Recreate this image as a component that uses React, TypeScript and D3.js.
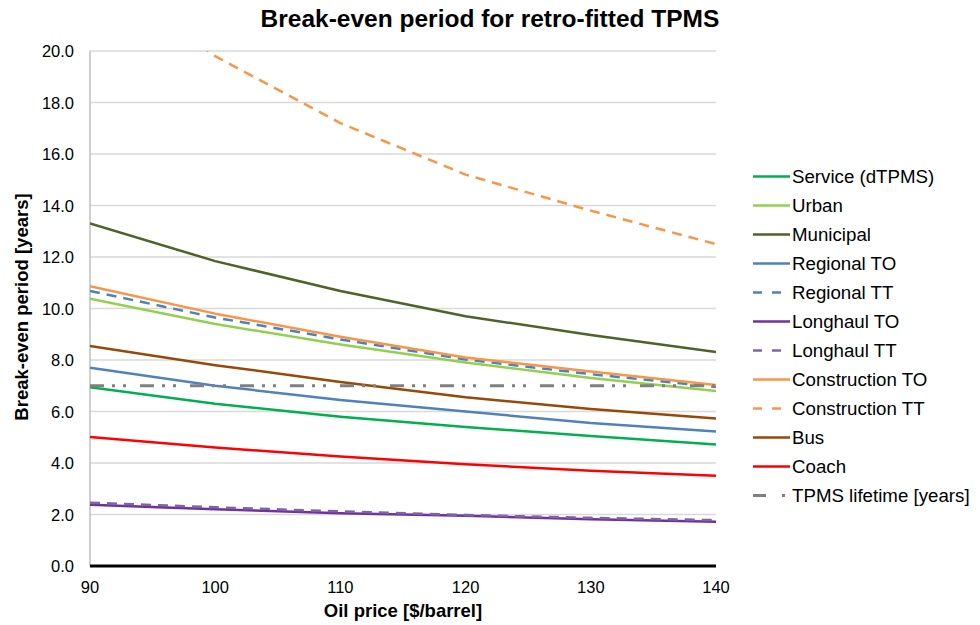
import React from "react";
import * as d3 from "d3";

// Oil price points (x axis)
const oilPrices = [90, 100, 110, 120, 130, 140];

// Break-even period in years for each vehicle segment
const service = [6.94, 6.3, 5.8, 5.4, 5.05, 4.72];
const urban = [10.38, 9.4, 8.6, 7.9, 7.3, 6.8];
const municipal = [13.3, 11.84, 10.68, 9.7, 8.97, 8.31];
const regionalTO = [7.7, 7.0, 6.45, 6.0, 5.55, 5.22];
const regionalTT = [10.68, 9.65, 8.8, 8.02, 7.45, 6.95];
const longhaulTO = [2.38, 2.2, 2.05, 1.95, 1.82, 1.72];
const longhaulTT = [2.46, 2.28, 2.12, 1.98, 1.87, 1.78];
const constructionTO = [10.87, 9.8, 8.9, 8.1, 7.55, 7.03];
const constructionTT = [23.3, 19.8, 17.2, 15.2, 13.8, 12.5];
const bus = [8.54, 7.8, 7.15, 6.55, 6.1, 5.73];
const coach = [5.01, 4.6, 4.25, 3.95, 3.7, 3.5];
const tpmsLifetime = [7, 7, 7, 7, 7, 7];

const yTicks = [0, 2, 4, 6, 8, 10, 12, 14, 16, 18, 20];
const xTicks = [90, 100, 110, 120, 130, 140];

type Series = {
  name: string;
  values: number[];
  color: string;
  dash?: string;
  legendDash?: string;
  width?: number;
};

const series: Series[] = [
  { name: "Service (dTPMS)", values: service, color: "#00B050" },
  { name: "Urban", values: urban, color: "#92D050" },
  { name: "Municipal", values: municipal, color: "#4F6228" },
  { name: "Regional TO", values: regionalTO, color: "#4F81BD" },
  { name: "Regional TT", values: regionalTT, color: "#4F81BD", dash: "10,7", legendDash: "9,10" },
  { name: "Longhaul TO", values: longhaulTO, color: "#7030A0" },
  { name: "Longhaul TT", values: longhaulTT, color: "#8064A2", dash: "10,7", legendDash: "9,10" },
  { name: "Construction TO", values: constructionTO, color: "#F79646" },
  { name: "Construction TT", values: constructionTT, color: "#F79646", dash: "10,7", legendDash: "9,10" },
  { name: "Bus", values: bus, color: "#984807" },
  { name: "Coach", values: coach, color: "#FF0000" },
  {
    name: "TPMS lifetime [years]",
    values: tpmsLifetime,
    color: "#808080",
    dash: "14,8,3,8,3,14",
    legendDash: "13,16,3,20",
    width: 3,
  },
];

const W = 980;
const H = 625;
const plot = { left: 90, right: 716, top: 51, bottom: 566 };
const FONT = "'Liberation Sans', Arial, sans-serif";

export default function App() {
  const x = d3.scaleLinear().domain([90, 140]).range([plot.left, plot.right]);
  const y = d3.scaleLinear().domain([0, 20]).range([plot.bottom, plot.top]);
  const line = d3
    .line<number>()
    .x((_, i) => x(oilPrices[i]))
    .y((d) => y(d));

  const legendX = 753;
  const legendY0 = 176.5;
  const legendStep = 29;

  return (
    <svg
      width={W}
      height={H}
      style={{ position: "absolute", left: 0, top: 0, background: "#fff" }}
      fontFamily={FONT}
    >
      <defs>
        <clipPath id="plot-clip">
          <rect
            x={plot.left}
            y={plot.top}
            width={plot.right - plot.left}
            height={plot.bottom - plot.top}
          />
        </clipPath>
      </defs>

      <text x={490} y={27} textAnchor="middle" fontSize={24.5} fontWeight="bold" fill="#000">
        Break-even period for retro-fitted TPMS
      </text>

      {/* horizontal gridlines */}
      {yTicks.slice(1).map((t) => (
        <line
          key={t}
          x1={plot.left}
          x2={plot.right}
          y1={y(t)}
          y2={y(t)}
          stroke="#D9D9D9"
          strokeWidth={1.5}
        />
      ))}
      <line x1={plot.left} x2={plot.left} y1={plot.top} y2={plot.bottom} stroke="#BFBFBF" strokeWidth={1.5} />

      {/* y tick labels */}
      {yTicks.map((t) => (
        <text key={t} x={74} y={y(t) + 6} textAnchor="end" fontSize={16.5} fill="#000">
          {t.toFixed(1)}
        </text>
      ))}

      {/* x tick labels */}
      {xTicks.map((t) => (
        <text key={t} x={x(t)} y={593} textAnchor="middle" fontSize={16.5} fill="#000">
          {t}
        </text>
      ))}

      <g clipPath="url(#plot-clip)">
        {series.map((s) => (
          <path
            key={s.name}
            d={line(s.values) ?? ""}
            fill="none"
            stroke={s.color}
            strokeWidth={s.width ?? 2.5}
            strokeDasharray={s.dash}
            strokeLinejoin="round"
          />
        ))}
      </g>

      {/* x axis baseline */}
      <line x1={plot.left} x2={plot.right} y1={plot.bottom} y2={plot.bottom} stroke="#000" strokeWidth={3} />

      {/* axis titles */}
      <text
        transform={`translate(28, 307) rotate(-90)`}
        textAnchor="middle"
        fontSize={18.5}
        fontWeight="bold"
        fill="#000"
      >
        Break-even period [years]
      </text>
      <text x={403} y={617} textAnchor="middle" fontSize={18.5} fontWeight="bold" fill="#000">
        Oil price [$/barrel]
      </text>

      {/* legend */}
      {series.map((s, i) => {
        const ly = legendY0 + i * legendStep;
        return (
          <g key={s.name}>
            <line
              x1={legendX}
              x2={legendX + 37}
              y1={ly}
              y2={ly}
              stroke={s.color}
              strokeWidth={s.width ?? 2.5}
              strokeDasharray={s.legendDash}
            />
            <text x={792} y={ly + 6.5} fontSize={18.7} fill="#000">
              {s.name}
            </text>
          </g>
        );
      })}
    </svg>
  );
}
